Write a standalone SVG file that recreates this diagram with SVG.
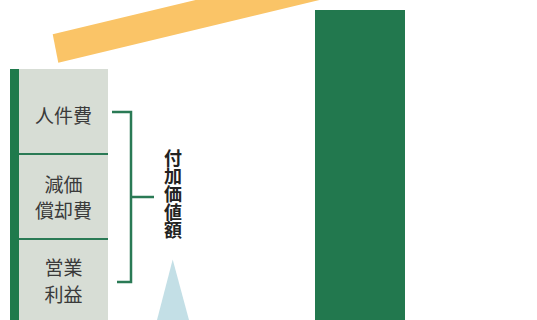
<svg xmlns="http://www.w3.org/2000/svg" width="537" height="320" viewBox="0 0 537 320">
<style>
.lbl{font-family:"Noto Sans CJK JP","Noto Sans",sans-serif;font-size:19px;fill:#3a3a3a;text-anchor:middle}
.vt{font-family:"Noto Sans CJK JP","Noto Sans",sans-serif;font-size:18px;font-weight:bold;fill:#222;text-anchor:middle;writing-mode:vertical-rl}
.div{stroke:#2a7a55;stroke-width:2}
.br{fill:none;stroke:#2a7a55;stroke-width:2.5}
</style>
<rect width="537" height="320" fill="#ffffff"/>
<g id="roof">
<polygon points="52.7,34.3 58.3,62.7 447.3,-30.7 441.7,-59.1" fill="#fac467"/>
</g>
<g id="right-bar">
<rect x="315" y="10" width="90" height="310" fill="#22784e"/>
</g>
<g id="left-stack">
<rect x="19" y="69" width="89" height="251" fill="#d7ddd5"/>
<rect x="10" y="69" width="9" height="251" fill="#1f7a4c"/>
<line class="div" x1="19" y1="154" x2="108" y2="154"/>
<line class="div" x1="19" y1="239" x2="108" y2="239"/>
</g>
<g id="node-jinkenhi">
<text class="lbl" x="63.5" y="123">人件費</text>
</g>
<g id="node-genka">
<text class="lbl" x="63.5" y="192">減価</text>
<text class="lbl" x="63.5" y="218">償却費</text>
</g>
<g id="node-eigyo">
<text class="lbl" x="63.5" y="275">営業</text>
<text class="lbl" x="63.5" y="302">利益</text>
</g>
<g id="connectors">
<path class="br" d="M112,112 H131 V282 H117"/>
<line class="br" x1="131" y1="197" x2="154" y2="197"/>
</g>
<g id="node-fukakachi">
<text class="vt" x="173" y="194">付加価値額</text>
</g>
<g id="triangle">
<polygon points="172.7,259.5 189,320 157,320" fill="#c3dfe6"/>
</g>
</svg>
